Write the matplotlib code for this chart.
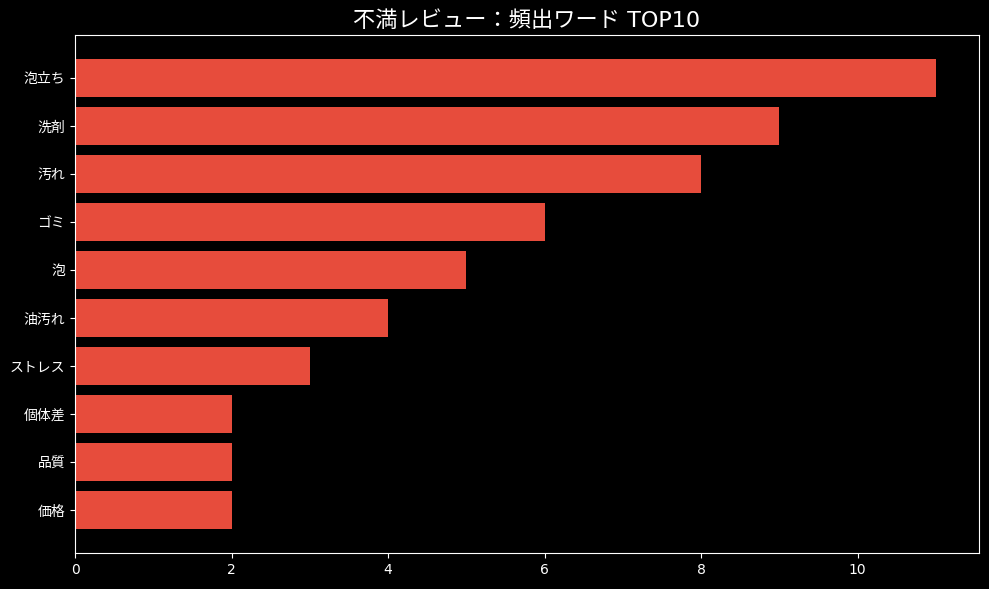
import matplotlib
matplotlib.use("Agg")
import matplotlib.pyplot as plt

plt.style.use("dark_background")
plt.rcParams['font.family'] = ['DejaVu Sans', 'Noto Sans CJK JP']

words = ["泡立ち", "洗剤", "汚れ", "ゴミ", "泡", "油汚れ", "ストレス", "個体差", "品質", "価格"]
counts = [11, 9, 8, 6, 5, 4, 3, 2, 2, 2]

fig = plt.figure(figsize=(9.89, 5.89), dpi=100)
ax = fig.add_axes([75 / 989, 1 - 553 / 589, 904 / 989, 518 / 589])

# 上から多い順に並べる
ax.barh(words[::-1], counts[::-1], color="#e74c3c")
ax.set_title("不満レビュー：頻出ワード TOP10", fontsize=16)

fig.savefig("out.png", dpi=100)
